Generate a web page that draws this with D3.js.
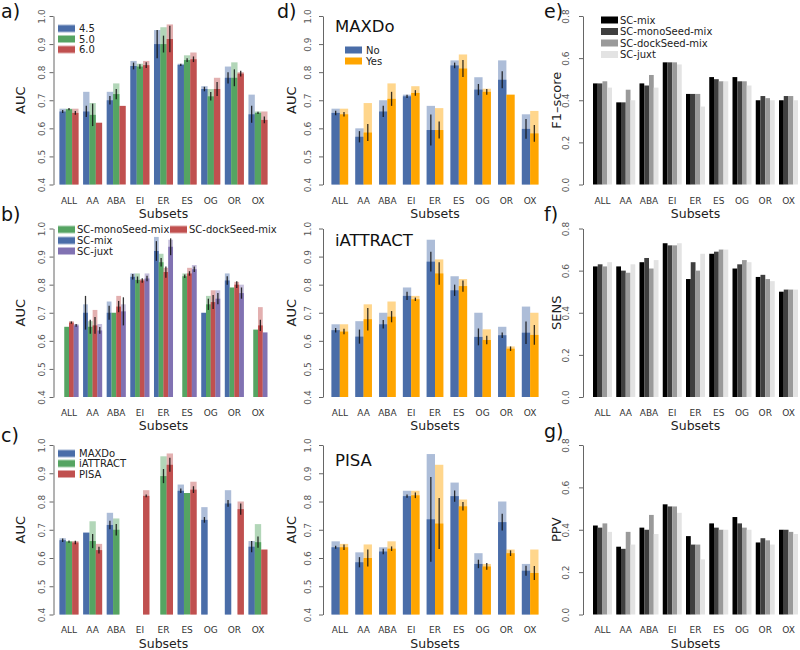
<!DOCTYPE html>
<html><head><meta charset="utf-8">
<script src="https://cdn.jsdelivr.net/npm/d3@7"></script>
<style>
body{margin:0;background:#fff;}
text{font-family:"DejaVu Sans",sans-serif;}
</style></head>
<body><svg id="c" width="800" height="650"></svg>
<script>
const subsets = ["ALL","AA","ABA","EI","ER","ES","OG","OR","OX"];
const aucTicks = [0.4,0.5,0.6,0.7,0.8,0.9,1.0];
const scoreTicks = [0.0,0.2,0.4,0.6,0.8];

// Panel a (AUC by cutoff)
const legendA = ["4.5","5.0","6.0"];
const a45Max  = [0.67,0.73,0.73,0.84,0.95,0.83,0.75,0.82,0.72];
const a45Mean = [0.66,0.66,0.70,0.822,0.90,0.826,0.74,0.78,0.65];
const a45Sd   = [0.005,0.02,0.015,0.012,0.05,0.004,0.008,0.02,0.03];
const a50Max  = [0.67,0.69,0.76,0.83,0.96,0.86,0.74,0.835,0.66];
const a50Mean = [0.668,0.648,0.722,0.82,0.90,0.843,0.714,0.78,0.655];
const a50Sd   = [0.004,0.04,0.018,0.008,0.03,0.007,0.015,0.03,0.004];
const a60Max  = [0.67,0.62,0.68,0.84,0.97,0.87,0.78,0.80,0.66];
const a60Mean = [0.655,0.62,0.68,0.825,0.918,0.846,0.74,0.795,0.63];
const a60Sd   = [0.007,0,0,0.01,0.047,0.01,0.025,0.01,0.012];

// Panel b (AUC by method)
const legendB = ["SC-mix","SC-monoSeed-mix","SC-dockSeed-mix","SC-juxt"];
const bMixMax   = [null,0.73,0.74,0.84,0.97,null,0.70,0.84,null];
const bMixMean  = [null,0.70,0.70,0.828,0.92,null,0.70,0.815,null];
const bMixSd    = [null,0.06,0.025,0.01,0.035,null,0,0.015,null];
const bMonoMax  = [0.65,0.67,0.70,0.84,0.91,0.84,0.76,0.79,0.64];
const bMonoMean = [0.65,0.65,0.70,0.817,0.88,0.83,0.73,0.79,0.64];
const bMonoSd   = [0,0.025,0,0.012,0.015,0.006,0.02,0,0];
const bDockMax  = [0.67,0.71,0.76,0.82,0.86,0.86,0.78,0.81,0.72];
const bDockMean = [0.665,0.655,0.722,0.815,0.845,0.84,0.738,0.80,0.655];
const bDockSd   = [0.004,0.03,0.02,0.008,0.02,0.008,0.025,0.012,0.02];
const bJuxtMax  = [0.66,0.66,0.73,0.84,0.96,0.87,0.78,0.80,0.63];
const bJuxtMean = [0.655,0.637,0.705,0.822,0.935,0.855,0.75,0.77,0.63];
const bJuxtSd   = [0.005,0.012,0.05,0.01,0.03,0.01,0.02,0.02,0];

// Panel c (AUC by docking program)
const legendC = ["MAXDo","iATTRACT","PISA"];
const cMaxdoMax  = [0.67,0.69,0.76,null,null,0.86,0.78,0.84,0.66];
const cMaxdoMean = [0.663,0.69,0.717,null,null,0.838,0.735,0.793,0.64];
const cMaxdoSd   = [0.006,0,0.015,null,null,0.008,0.01,0.012,0.02];
const cAttMax    = [0.66,0.73,0.74,null,0.96,0.83,null,null,0.72];
const cAttMean   = [0.658,0.66,0.70,null,0.89,0.83,null,null,0.656];
const cAttSd     = [0.004,0.025,0.02,null,0.025,0,null,null,0.02];
const cPisaMax   = [0.66,0.65,null,0.84,0.97,0.87,null,0.80,0.63];
const cPisaMean  = [0.655,0.628,null,0.82,0.93,0.842,null,0.773,0.63];
const cPisaSd    = [0.006,0.012,null,0.005,0.025,0.012,null,0.02,0];

// Panel d (No / Yes per docking program)
const legendD = ["No","Yes"];
const dMaxdoNoMax   = [0.67,0.60,0.70,0.72,0.68,0.842,0.782,0.842,0.65];
const dMaxdoNoMean  = [0.655,0.57,0.66,0.714,0.594,0.824,0.738,0.773,0.598];
const dMaxdoNoSd    = [0.008,0.02,0.02,0.006,0.055,0.01,0.02,0.03,0.035];
const dMaxdoYesMax  = [0.67,0.69,0.76,0.75,0.672,0.863,0.741,0.72,0.662];
const dMaxdoYesMean = [0.65,0.585,0.705,0.726,0.594,0.813,0.73,0.72,0.582];
const dMaxdoYesSd   = [0.008,0.03,0.025,0.01,0.03,0.03,0.01,0,0.03];
const dAttNoMax     = [0.659,0.67,0.70,0.79,0.96,0.83,0.70,0.65,0.722];
const dAttNoMean    = [0.638,0.615,0.659,0.76,0.882,0.78,0.614,0.62,0.629];
const dAttNoSd      = [0.008,0.025,0.015,0.015,0.035,0.02,0.03,0.01,0.04];
const dAttYesMax    = [0.659,0.73,0.74,0.76,0.89,0.82,0.641,0.58,0.70];
const dAttYesMean   = [0.633,0.677,0.686,0.748,0.84,0.795,0.603,0.572,0.621];
const dAttYesSd     = [0.01,0.04,0.02,0.006,0.04,0.02,0.015,0.008,0.035];
const dPisaNoMax    = [0.659,0.62,0.638,0.838,0.968,0.867,0.617,0.80,0.579];
const dPisaNoMean   = [0.638,0.585,0.623,0.819,0.737,0.819,0.579,0.727,0.555];
const dPisaNoSd     = [0.005,0.018,0.01,0.006,0.15,0.02,0.015,0.03,0.018];
const dPisaYesMax   = [0.65,0.648,0.659,0.838,0.93,0.807,0.579,0.63,0.63];
const dPisaYesMean  = [0.638,0.60,0.633,0.822,0.722,0.783,0.57,0.617,0.547];
const dPisaYesSd    = [0.01,0.03,0.008,0.01,0.09,0.015,0.012,0.01,0.025];

// Panels e-g (grey bars)
const legendE = ["SC-mix","SC-monoSeed-mix","SC-dockSeed-mix","SC-juxt"];
const f1Mix  = [0.48,0.39,0.48,0.58,0.43,0.51,0.51,0.40,0.40];
const f1Mono = [0.48,0.39,0.47,0.58,0.43,0.50,0.49,0.42,0.42];
const f1Dock = [0.49,0.45,0.52,0.58,0.43,0.49,0.49,0.41,0.42];
const f1Juxt = [0.46,0.40,0.46,0.57,0.37,0.49,0.47,0.40,0.40];
const sensMix  = [0.62,0.62,0.64,0.73,0.56,0.68,0.61,0.57,0.50];
const sensMono = [0.63,0.60,0.66,0.72,0.64,0.69,0.63,0.58,0.51];
const sensDock = [0.62,0.59,0.61,0.72,0.60,0.70,0.65,0.56,0.51];
const sensJuxt = [0.64,0.63,0.65,0.73,0.68,0.70,0.64,0.55,0.51];
const ppvMix  = [0.42,0.32,0.41,0.52,0.37,0.43,0.46,0.34,0.40];
const ppvMono = [0.41,0.31,0.40,0.51,0.33,0.41,0.43,0.36,0.40];
const ppvDock = [0.43,0.39,0.47,0.51,0.33,0.40,0.41,0.35,0.39];
const ppvJuxt = [0.39,0.33,0.38,0.48,0.26,0.40,0.40,0.33,0.38];

const C = {blue:"#4a6da8", green:"#55a462", red:"#c0504f", purple:"#8172b2", orange:"#ffa500",
           k0:"#000000", k1:"#3f3f3f", k2:"#9a9a9a", k3:"#e3e3e3"};

const svg = d3.select("#c");
const rows = [[16,184.5],[228.5,397],[445,614.5]];
const xLabY = [203.5,416,633];
const subY = [218,430,647.5];

function panel(o){
  const [top,bottom] = rows[o.row];
  const g = svg.append("g");
  const y = d3.scaleLinear().domain(o.domain).range([bottom, top]);
  const x = d3.scaleBand().domain(subsets).range(o.band).paddingInner(o.pad).paddingOuter(0);
  const xi = d3.scaleBand().domain(d3.range(o.series.length)).range([0, x.bandwidth()]);
  const base = y(o.domain[0]);
  o.series.forEach((s,si)=>{
    subsets.forEach((c,i)=>{
      const m = s.mean[i];
      if (m == null) return;
      const bx = x(c) + xi(si), bw = xi.bandwidth();
      if (s.max && s.max[i] != null && s.max[i] > m){
        g.append("rect").attr("x",bx).attr("width",bw).attr("y",y(s.max[i]))
          .attr("height",base - y(s.max[i])).attr("fill",s.color).attr("opacity",0.45);
      }
      g.append("rect").attr("x",bx).attr("width",bw).attr("y",y(m))
        .attr("height",base - y(m)).attr("fill",s.color);
      if (s.sd && s.sd[i] > 0){
        g.append("line").attr("x1",bx+bw/2).attr("x2",bx+bw/2)
          .attr("y1",y(m - s.sd[i])).attr("y2",y(m + s.sd[i]))
          .attr("stroke","#111").attr("stroke-width",1.3).attr("opacity",0.85);
      }
    });
  });
  // y axis
  const ax = g.append("g").attr("transform",`translate(${o.axisX},0)`)
    .call(d3.axisLeft(y).tickValues(o.ticks).tickSize(4).tickSizeOuter(0).tickFormat(d3.format(".1f")));
  ax.select(".domain").attr("stroke","#666");
  ax.selectAll(".tick line").attr("stroke","#666");
  ax.selectAll(".tick text").attr("x",null).attr("dy","0.35em").attr("text-anchor","middle")
    .attr("transform",`translate(${o.tickDx},0) rotate(-90)`)
    .attr("font-size","9px").attr("fill","#555").attr("font-family","DejaVu Sans");
  // x labels
  g.selectAll(".xl").data(subsets).enter().append("text")
    .attr("x",d=>x(d)+x.bandwidth()/2).attr("y",xLabY[o.row])
    .attr("text-anchor","middle").attr("font-size","9px").attr("fill","#333").text(d=>d);
  const mid = (x(subsets[0]) + x(subsets[8]) + x.bandwidth())/2;
  g.append("text").attr("x",mid).attr("y",subY[o.row]).attr("text-anchor","middle")
    .attr("font-size","12.5px").attr("fill","#222").text("Subsets");
  g.append("text").attr("transform",`translate(${o.titleX},${(top+bottom)/2}) rotate(-90)`)
    .attr("text-anchor","middle").attr("dy","0.35em").attr("font-size","13px").attr("fill","#222").text(o.ylabel);
  return g;
}

function legend(items, x, ys, textX){
  items.forEach((it,i)=>{
    const yy = ys[i];
    svg.append("rect").attr("x",x).attr("y",yy-4).attr("width",17).attr("height",8).attr("fill",it.color).attr("opacity",0.5);
    svg.append("rect").attr("x",x).attr("y",yy-3).attr("width",17).attr("height",6).attr("fill",it.color);
    svg.append("text").attr("x",(textX!=null?textX:x+20)).attr("y",yy).attr("dy","0.36em")
      .attr("font-size","10px").attr("fill","#222").text(it.label);
  });
}

const abcBand = [59.5,267.5], abcPad = 0.195;
// a)
panel({row:0, domain:[0.4,1.0], ticks:aucTicks, band:abcBand, pad:abcPad, axisX:53.5, tickDx:-12, titleX:20, ylabel:"AUC",
  series:[{max:a45Max,mean:a45Mean,sd:a45Sd,color:C.blue},{max:a50Max,mean:a50Mean,sd:a50Sd,color:C.green},{max:a60Max,mean:a60Mean,sd:a60Sd,color:C.red}]});
legend([{label:legendA[0],color:C.blue},{label:legendA[1],color:C.green},{label:legendA[2],color:C.red}],58,[28.5,39,49.5],79);
// b)
panel({row:1, domain:[0.4,1.0], ticks:aucTicks, band:abcBand, pad:abcPad, axisX:53.5, tickDx:-12, titleX:20, ylabel:"AUC",
  series:[{max:bMixMax,mean:bMixMean,sd:bMixSd,color:C.blue},{max:bMonoMax,mean:bMonoMean,sd:bMonoSd,color:C.green},
          {max:bDockMax,mean:bDockMean,sd:bDockSd,color:C.red},{max:bJuxtMax,mean:bJuxtMean,sd:bJuxtSd,color:C.purple}]});
legend([{label:legendB[1],color:C.green},{label:legendB[0],color:C.blue},{label:legendB[3],color:C.purple}],58,[229.5,240.5,251],77);
legend([{label:legendB[2],color:C.red}],170,[229.5],189);
// c)
panel({row:2, domain:[0.4,1.0], ticks:aucTicks, band:abcBand, pad:abcPad, axisX:53.5, tickDx:-12, titleX:20, ylabel:"AUC",
  series:[{max:cMaxdoMax,mean:cMaxdoMean,sd:cMaxdoSd,color:C.blue},{max:cAttMax,mean:cAttMean,sd:cAttSd,color:C.green},{max:cPisaMax,mean:cPisaMean,sd:cPisaSd,color:C.red}]});
legend([{label:legendC[0],color:C.blue},{label:legendC[1],color:C.green},{label:legendC[2],color:C.red}],58,[453.5,463.5,474],79);

// d)
const dBand = [331.5,538.5], dPad = 0.3;
const dSets = [
  {title:"MAXDo", no:[dMaxdoNoMax,dMaxdoNoMean,dMaxdoNoSd], yes:[dMaxdoYesMax,dMaxdoYesMean,dMaxdoYesSd], ty:32},
  {title:"iATTRACT", no:[dAttNoMax,dAttNoMean,dAttNoSd], yes:[dAttYesMax,dAttYesMean,dAttYesSd], ty:246},
  {title:"PISA", no:[dPisaNoMax,dPisaNoMean,dPisaNoSd], yes:[dPisaYesMax,dPisaYesMean,dPisaYesSd], ty:466}];
dSets.forEach((s,r)=>{
  panel({row:r, domain:[0.4,1.0], ticks:aucTicks, band:dBand, pad:dPad, axisX:323, tickDx:-15, titleX:291, ylabel:"AUC",
    series:[{max:s.no[0],mean:s.no[1],sd:s.no[2],color:C.blue},{max:s.yes[0],mean:s.yes[1],sd:s.yes[2],color:C.orange}]});
  svg.append("text").attr("x",335).attr("y",s.ty).attr("font-size","16.5px").attr("fill","#111").text(s.title);
});
legend([{label:legendD[0],color:C.blue},{label:legendD[1],color:C.orange}],345,[50,61],366);

// e-g)
const eBand = [593,798], ePad = 0.183;
const greys = [C.k0,C.k1,C.k2,C.k3];
const eSets = [
  {lab:"F1\u2013score", s:[f1Mix,f1Mono,f1Dock,f1Juxt]},
  {lab:"SENS", s:[sensMix,sensMono,sensDock,sensJuxt]},
  {lab:"PPV", s:[ppvMix,ppvMono,ppvDock,ppvJuxt]}];
eSets.forEach((e,r)=>{
  panel({row:r, domain:[0,0.8], ticks:scoreTicks, band:eBand, pad:ePad, axisX:583, tickDx:-17, titleX:556, ylabel:e.lab,
    series:e.s.map((v,i)=>({mean:v,color:greys[i]}))});
});
legendE.forEach((l,i)=>{
  const yy=[20,31.5,43,54.5][i];
  svg.append("rect").attr("x",601).attr("y",yy-3.5).attr("width",17).attr("height",7).attr("fill",greys[i]);
  svg.append("text").attr("x",620).attr("y",yy).attr("dy","0.36em").attr("font-size","10px").attr("fill","#222").text(l);
});

// panel letters
[["a)",1,18],["b)",1,221],["c)",1,442],["d)",277,18],["e)",544,18],["f)",544,221],["g)",544,438]].forEach(p=>{
  svg.append("text").attr("x",p[1]).attr("y",p[2]).attr("font-size","19px").attr("fill","#111").text(p[0]);
});
</script></body></html>
